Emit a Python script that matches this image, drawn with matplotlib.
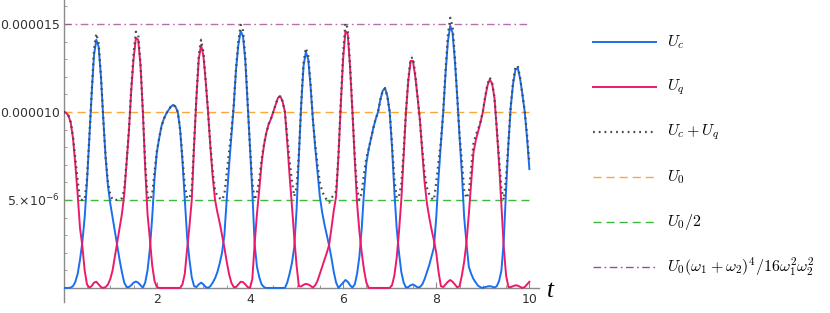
import numpy as np
import matplotlib
matplotlib.use("Agg")
import matplotlib.pyplot as plt
from matplotlib.lines import Line2D
from matplotlib.ticker import MultipleLocator, FixedLocator, FixedFormatter

## time grid (step 0.05) and energies, in units of 1e-6
t = np.round(np.arange(0, 10.001, 0.05), 2)

uq = [10.0, 9.95, 9.8, 9.4, 8.5, 7.0, 5.3, 3.4, 2.4, 1.0,
      0.2, 0.02, 0.1, 0.3, 0.35, 0.2, 0.05, 0.0, 0.05, 0.2,
      0.5, 1.0, 1.8, 2.6, 3.4, 4.2, 5.3, 7.1, 8.9, 11.2,
      13.0, 14.2, 14.1, 12.6, 10.0, 6.8, 4.2, 2.8, 1.3, 0.4,
      0.05, 0.0, 0.0, 0.0, 0.0, 0.0, 0.0, 0.0, 0.0, 0.0,
      0.0, 0.2, 0.8, 2.2, 3.5, 5.0, 8.1, 10.8, 13.0, 13.8,
      13.2, 11.7, 10.0, 8.0, 6.3, 5.0, 4.3, 3.7, 3.0, 2.3,
      1.5, 0.8, 0.3, 0.05, 0.05, 0.2, 0.35, 0.33, 0.2, 0.05,
      0.0, 0.5, 2.5, 4.2, 5.6, 7.1, 8.1, 8.8, 9.3, 9.6,
      10.0, 10.4, 10.8, 10.9, 10.6, 10.0, 8.3, 6.4, 4.7, 2.9,
      1.3, 0.1, 0.08, 0.18, 0.23, 0.2, 0.12, 0.02, 0.15, 0.4,
      0.8, 1.2, 1.6, 2.0, 2.45, 3.4, 4.4, 5.2, 7.5, 10.4,
      13.0, 14.6, 14.4, 12.5, 10.0, 7.3, 4.8, 3.2, 2.0, 1.0,
      0.3, 0.0, 0.0, 0.0, 0.0, 0.0, 0.0, 0.0, 0.0, 0.0,
      0.0, 0.15, 0.7, 1.7, 3.2, 5.0, 7.5, 10.0, 11.8, 12.9,
      12.9, 12.0, 10.8, 9.5, 7.7, 6.0, 4.8, 4.0, 3.3, 2.7,
      2.0, 0.9, 0.1, 0.05, 0.2, 0.35, 0.45, 0.35, 0.2, 0.03,
      0.1, 0.7, 1.5, 2.6, 4.2, 6.0, 7.7, 8.4, 8.9, 9.4,
      10.0, 10.8, 11.5, 11.85, 11.6, 10.8, 9.0, 7.0, 4.6, 2.3,
      0.7, 0.05, 0.05, 0.1, 0.15, 0.13, 0.06, 0.0, 0.05, 0.2,
      0.35]

uc = [0.0, 0.0, 0.0, 0.02, 0.1, 0.35, 0.8, 1.6, 2.6, 4.0,
      6.0, 8.5, 11.0, 13.2, 14.1, 13.7, 12.0, 9.6, 7.4, 5.8,
      4.8, 4.0, 3.2, 2.4, 1.6, 0.9, 0.3, 0.05, 0.05, 0.15,
      0.3, 0.36, 0.3, 0.15, 0.02, 0.3, 1.0, 2.2, 4.0, 6.2,
      7.7, 8.5, 9.2, 9.6, 9.9, 10.1, 10.3, 10.4, 10.3, 10.0,
      9.0, 7.2, 5.0, 2.9, 1.6, 0.6, 0.1, 0.05, 0.2, 0.3,
      0.2, 0.05, 0.0, 0.1, 0.3, 0.55, 0.9, 1.4, 2.0, 3.0,
      5.0, 6.9, 8.6, 10.3, 12.4, 13.8, 14.6, 14.3, 12.9, 10.5,
      8.0, 5.5, 2.5, 1.2, 0.6, 0.2, 0.05, 0.0, 0.0, 0.0,
      0.0, 0.0, 0.0, 0.0, 0.0, 0.0, 0.3, 0.8, 1.4, 2.3,
      4.4, 7.5, 10.4, 12.6, 13.4, 13.0, 11.5, 9.6, 8.0, 6.6,
      5.2, 4.3, 3.6, 3.0, 2.4, 1.7, 0.9, 0.3, 0.0, 0.15,
      0.3, 0.45, 0.35, 0.15, 0.02, 0.2, 0.8, 1.8, 3.4, 5.5,
      7.1, 7.9, 8.5, 9.1, 9.6, 10.0, 10.7, 11.2, 11.35, 10.9,
      10.0, 8.0, 5.5, 3.4, 2.0, 0.9, 0.3, 0.02, 0.05, 0.15,
      0.2, 0.12, 0.03, 0.05, 0.2, 0.5, 0.9, 1.3, 1.8, 2.3,
      4.0, 6.3, 8.2, 10.0, 12.2, 14.0, 14.9, 14.5, 12.9, 10.9,
      8.6, 6.5, 4.0, 2.5, 1.2, 0.8, 0.5, 0.3, 0.12, 0.04,
      0.0, 0.05, 0.08, 0.1, 0.07, 0.02, 0.1, 0.4, 1.0, 2.7,
      5.6, 8.2, 10.3, 11.6, 12.4, 12.5, 11.9, 11.0, 10.0, 8.5,
      6.75]

U0 = 1e-5
bound_factor = 1.5  # (w1+w2)^4 / 16 w1^2 w2^2

yticks = [5e-6, 1e-5, 1.5e-5]
ytick_labels = [r"5.×10$^{-6}$", "0.000010", "0.000015"]
xticks = [2, 4, 6, 8, 10]
legend_labels = [r"$U_c$", r"$U_q$", r"$U_c+U_q$", r"$U_0$", r"$U_0/2$",
                 r"$U_0(\omega_1+\omega_2)^4/16\omega_1^2\omega_2^2$"]

uc = np.array(uc) * 1e-6
uq = np.array(uq) * 1e-6

fig = plt.figure(figsize=(8.3, 3.13), dpi=100)
ax = fig.add_axes([63.7 / 830, 11 / 313, 475 / 830, 302 / 313])

styles = [
    dict(color="#1a6ff0", lw=1.4, ls="-"),
    dict(color="#ec1a6a", lw=1.4, ls="-"),
    dict(color="#4a4a4a", lw=1.6, ls=(0, (0.8, 1.8))),
    dict(color="#fca63c", lw=1.0, ls=(0, (5.8, 3.6))),
    dict(color="#3cb93c", lw=1.0, ls=(0, (5.8, 3.6))),
    dict(color="#a24aa2", lw=1.0, ls=(0, (5.5, 2.5, 1.2, 2.5))),
]

ax.plot(t, uc, zorder=3, **styles[0])
ax.plot(t, uq, zorder=3, **styles[1])
ax.plot(t, uc + uq, zorder=4, **styles[2])
ax.plot([0, 10], [U0, U0], zorder=2, **styles[3])
ax.plot([0, 10], [U0 / 2, U0 / 2], zorder=2, **styles[4])
ax.plot([0, 10], [U0 * bound_factor] * 2, zorder=2, alpha=0.8, **styles[5])

ax.set_xlim(0, 10.2)
ax.set_ylim(-0.8e-6, 16.36e-6)

## Mathematica-style axes through the origin
for side in ["top", "right"]:
    ax.spines[side].set_visible(False)
ax.spines["left"].set_position(("data", 0))
ax.spines["bottom"].set_position(("data", 0))
for side in ["left", "bottom"]:
    ax.spines[side].set_color("#8a8a8a")
    ax.spines[side].set_linewidth(1.0)

ax.xaxis.set_major_locator(FixedLocator(xticks))
ax.xaxis.set_minor_locator(MultipleLocator(0.5))
ax.yaxis.set_major_locator(FixedLocator(yticks))
ax.yaxis.set_major_formatter(FixedFormatter(ytick_labels))
ax.yaxis.set_minor_locator(MultipleLocator(1e-6))
ax.tick_params(which="both", direction="in", color="#8a8a8a", labelsize=9, labelcolor="#333333")
ax.tick_params(which="major", length=4.5, width=0.8)
ax.tick_params(which="minor", length=2.5, width=0.6)
ax.tick_params(axis="x", pad=4)
ax.tick_params(axis="y", pad=3)

fig.text(547 / 830, 1 - 291 / 313, "t", family="Liberation Serif", style="italic",
         fontsize=18, va="center", ha="left")

## legend drawn by hand, one row every 45 px
for i, (label, st) in enumerate(zip(legend_labels, styles)):
    y = 1 - (42 + 45 * i) / 313
    fig.add_artist(Line2D([593 / 830, 656 / 830], [y, y], transform=fig.transFigure, **st))
    fig.text(667 / 830, y, label, fontsize=11.5, va="center", ha="left", math_fontfamily="cm")

fig.savefig("out.png", dpi=100)
